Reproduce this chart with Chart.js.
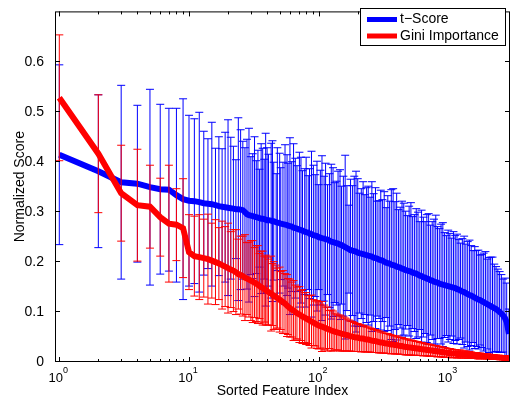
<!DOCTYPE html>
<html><head><meta charset="utf-8">
<script src="https://cdn.jsdelivr.net/npm/chart.js@4.4.0/dist/chart.umd.min.js"></script>
<style>html,body{margin:0;padding:0;background:#fff;}canvas{display:block;}</style>
</head><body>
<canvas id="c" width="511" height="400"></canvas>
<script>
const featureIndex = [1,2,3,4,5,6,7,8,9,10,
 11,12,13,14,15,16,17,18,19,20,
 21,22,23,24,25,26,27,28,29,30,
 31,32,33,34,35,36,37,38,39,40,
 41,43,44,45,47,48,50,51,53,55,
 57,58,60,62,64,66,68,71,73,75,
 78,80,83,85,88,91,94,97,100,103,
 106,110,113,117,121,125,129,133,137,141,
 146,150,155,160,165,171,176,182,188,194,
 200,206,213,220,227,234,241,249,257,265,
 274,282,292,301,310,320,331,341,352,363,
 375,387,399,412,425,439,453,468,483,498,
 514,530,547,565,583,602,621,641,661,682,
 704,727,750,774,799,824,851,878,906,935,
 965,996,1027,1060,1094,1129,1165,1203,1241,1281,
 1322,1364,1408,1453,1499,1547,1597,1648,1701,1755,
 1811,1869,1929,1991,2055,2120,2188,2258,2330,2405,
 2482,2561,2643,2728,2815,2930];
const tScoreMean = [.415,.382,.360,.357,.350,.346,.345,.334,.326,.323,
 .322,.320,.318,.317,.316,.314,.312,.311,.310,.309,
 .308,.307,.306,.306,.305,.304,.300,.296,.294,.293,
 .292,.291,.290,.289,.288,.287,.287,.286,.285,.284,
 .284,.283,.282,.282,.280,.279,.278,.277,.276,.275,
 .274,.273,.272,.271,.269,.268,.267,.265,.264,.263,
 .261,.260,.259,.257,.256,.254,.253,.252,.250,.249,
 .248,.247,.246,.245,.243,.241,.240,.239,.238,.237,
 .235,.234,.232,.230,.228,.226,.224,.223,.222,.221,
 .219,.218,.217,.216,.215,.214,.213,.212,.211,.209,
 .208,.207,.205,.204,.203,.201,.199,.198,.197,.195,
 .194,.193,.191,.190,.189,.187,.186,.184,.183,.182,
 .181,.179,.178,.177,.175,.173,.172,.170,.169,.167,
 .166,.164,.163,.161,.160,.159,.157,.156,.155,.154,
 .153,.152,.151,.150,.149,.148,.146,.145,.143,.141,
 .140,.138,.136,.134,.133,.131,.129,.127,.125,.124,
 .122,.120,.118,.116,.114,.112,.110,.108,.106,.103,
 .100,.097,.093,.088,.080,.056];
const tScoreErr = [.180,.153,.194,.157,.196,.170,.163,.174,.201,.171,
 .165,.180,.144,.130,.164,.114,.139,.116,.150,.176,
 .142,.125,.099,.183,.160,.138,.129,.150,.174,.118,
 .125,.160,.113,.135,.098,.150,.141,.120,.173,.145,
 .132,.155,.161,.118,.097,.150,.140,.112,.124,.160,
 .141,.125,.177,.130,.168,.140,.126,.155,.146,.120,
 .126,.150,.114,.130,.166,.140,.122,.150,.105,.135,
 .165,.125,.152,.110,.134,.155,.149,.120,.124,.145,
 .150,.118,.140,.184,.125,.088,.142,.130,.150,.161,
 .148,.120,.130,.145,.120,.135,.139,.118,.150,.128,
 .141,.115,.118,.140,.122,.140,.110,.135,.125,.150,
 .153,.128,.147,.115,.121,.135,.132,.118,.110,.130,
 .138,.112,.117,.130,.125,.108,.132,.120,.112,.128,
 .131,.110,.118,.125,.134,.112,.110,.120,.124,.105,
 .100,.112,.106,.098,.112,.105,.110,.100,.095,.106,
 .112,.098,.105,.110,.100,.092,.102,.096,.099,.090,
 .093,.098,.103,.090,.095,.098,.100,.088,.085,.083,
 .081,.078,.073,.080,.078,.050];
const giniMean = [.529,.417,.338,.314,.311,.290,.277,.275,.268,.220,
 .212,.210,.208,.206,.203,.200,.197,.194,.191,.188,
 .185,.183,.180,.176,.174,.172,.169,.167,.165,.163,
 .161,.159,.157,.155,.152,.150,.148,.146,.144,.142,
 .140,.137,.135,.133,.130,.128,.125,.123,.120,.117,
 .113,.111,.108,.105,.103,.100,.098,.095,.093,.091,
 .089,.087,.085,.083,.081,.079,.077,.075,.073,.072,
 .071,.069,.068,.066,.065,.063,.062,.061,.060,.059,
 .058,.057,.056,.055,.054,.053,.052,.051,.050,.049,
 .049,.048,.047,.047,.046,.045,.045,.044,.043,.042,
 .042,.041,.040,.039,.039,.038,.037,.037,.036,.035,
 .035,.034,.034,.033,.032,.032,.031,.030,.030,.029,
 .029,.028,.028,.027,.027,.026,.026,.025,.025,.024,
 .024,.023,.023,.022,.022,.021,.021,.020,.020,.019,
 .019,.018,.018,.017,.017,.017,.016,.016,.016,.015,
 .015,.015,.014,.014,.014,.013,.013,.013,.012,.012,
 .012,.012,.011,.011,.011,.010,.010,.010,.010,.009,
 .009,.009,.008,.008,.008,.007];
const giniErr = [.126,.118,.096,.112,.083,.078,.117,.072,.099,.075,
 .080,.085,.078,.090,.075,.085,.072,.088,.080,.090,
 .076,.082,.085,.070,.078,.080,.086,.072,.075,.080,
 .082,.070,.076,.078,.065,.072,.074,.066,.070,.068,
 .066,.075,.062,.068,.064,.060,.065,.058,.063,.060,
 .062,.056,.058,.055,.060,.054,.052,.056,.050,.054,
 .050,.052,.048,.050,.053,.046,.045,.048,.047,.044,
 .050,.045,.042,.044,.038,.041,.040,.037,.036,.035,
 .036,.035,.034,.033,.032,.031,.030,.030,.029,.028,
 .028,.027,.027,.026,.026,.025,.025,.024,.024,.023,
 .023,.022,.022,.021,.021,.020,.020,.020,.019,.019,
 .018,.018,.018,.017,.017,.017,.016,.016,.016,.015,
 .015,.015,.014,.014,.014,.013,.013,.013,.012,.012,
 .012,.012,.011,.011,.011,.011,.010,.010,.010,.010,
 .009,.009,.009,.009,.008,.008,.008,.008,.008,.007,
 .007,.007,.007,.007,.006,.006,.006,.006,.006,.006,
 .005,.005,.005,.005,.005,.005,.005,.004,.004,.004,
 .004,.004,.004,.004,.004,.003];
const seriesLabels = ['t\u2212Score', 'Gini Importance'];
const seriesColors = ['#0000ff', '#ff0000'];
const yTicks = [0, 0.1, 0.2, 0.3, 0.4, 0.5, 0.6];
const xTicks = [1, 10, 100, 1000];
const xTickExponents = ['0', '1', '2', '3'];
const xTitle = 'Sorted Feature Index';
const yTitle = 'Normalized Score';

const FONT = "'Liberation Sans', Arial, Helvetica, sans-serif";

const errorBarPlugin = {
  id: 'errorBars',
  beforeDatasetDraw(chart, args) {
    const ds = chart.data.datasets[args.index];
    if (!ds.errors) return;
    const xs = chart.scales.x, ys = chart.scales.y, ctx = chart.ctx, a = chart.chartArea;
    ctx.save();
    ctx.beginPath(); ctx.rect(a.left, a.top, a.right - a.left, a.bottom - a.top); ctx.clip();
    ctx.strokeStyle = ds.borderColor; ctx.lineWidth = 1;
    ctx.beginPath();
    ds.data.forEach((pt, j) => {
      const e = ds.errors[j];
      const px = xs.getPixelForValue(pt.x);
      const yt = ys.getPixelForValue(pt.y + e), yb = ys.getPixelForValue(pt.y - e);
      ctx.moveTo(px, yt); ctx.lineTo(px, yb);
      ctx.moveTo(px - 4, yt); ctx.lineTo(px + 4, yt);
      ctx.moveTo(px - 4, yb); ctx.lineTo(px + 4, yb);
    });
    ctx.stroke();
    ctx.restore();
  }
};

const framePlugin = {
  id: 'frame',
  afterDraw(chart) {
    const ctx = chart.ctx, a = chart.chartArea, xs = chart.scales.x, ys = chart.scales.y;
    ctx.save();
    ctx.strokeStyle = '#000'; ctx.lineWidth = 1;
    ctx.strokeRect(a.left + 0.5, a.top + 0.5, a.right - a.left - 1, a.bottom - a.top - 1);
    ctx.beginPath();
    yTicks.forEach(v => {
      const py = Math.round(ys.getPixelForValue(v)) - 0.5;
      ctx.moveTo(a.left, py); ctx.lineTo(a.left + 5, py);
      ctx.moveTo(a.right, py); ctx.lineTo(a.right - 5, py);
    });
    for (let d = 0; d <= 3; d++) {
      for (let k = 1; k <= 9; k++) {
        const v = k * Math.pow(10, d);
        if (v < xs.min || v > xs.max) continue;
        const px = Math.round(xs.getPixelForValue(v)) + 0.5;
        const len = k === 1 ? 5 : 3;
        ctx.moveTo(px, a.bottom); ctx.lineTo(px, a.bottom - len);
        ctx.moveTo(px, a.top); ctx.lineTo(px, a.top + len);
      }
    }
    ctx.stroke();
    ctx.fillStyle = '#000';
    ctx.textBaseline = 'middle';
    ctx.textAlign = 'left';
    xTicks.forEach((v, i) => {
      const px = xs.getPixelForValue(v);
      ctx.font = '13px ' + FONT;
      const w1 = ctx.measureText('10').width;
      ctx.font = '9px ' + FONT;
      const w2 = ctx.measureText(xTickExponents[i]).width;
      const x0 = px - (w1 + w2) / 2 - 1;
      ctx.font = '13px ' + FONT;
      ctx.fillText('10', x0, 378);
      ctx.font = '9px ' + FONT;
      ctx.fillText(xTickExponents[i], x0 + w1, 371);
    });
    const lx = 360.5, ly = 8.5, lw = 145, lh = 37;
    ctx.fillStyle = '#fff';
    ctx.fillRect(lx, ly, lw, lh);
    ctx.strokeStyle = '#000'; ctx.lineWidth = 1;
    ctx.strokeRect(lx, ly, lw, lh);
    const rows = [19.5, 36];
    chart.data.datasets.forEach((ds, i) => {
      ctx.strokeStyle = ds.borderColor; ctx.lineWidth = 5;
      ctx.beginPath(); ctx.moveTo(367, rows[i]); ctx.lineTo(397, rows[i]); ctx.stroke();
      ctx.fillStyle = '#000';
      ctx.font = '14px ' + FONT;
      ctx.textBaseline = 'middle';
      ctx.fillText(ds.label, 400, rows[i]);
    });
    ctx.restore();
  }
};

const mk = (m) => featureIndex.map((x, i) => ({x: x, y: m[i]}));

new Chart(document.getElementById('c'), {
  type: 'line',
  data: {
    datasets: [
      {label: seriesLabels[0], data: mk(tScoreMean), errors: tScoreErr, borderColor: seriesColors[0], backgroundColor: seriesColors[0], borderWidth: 6, pointRadius: 0, tension: 0, order: 1},
      {label: seriesLabels[1], data: mk(giniMean), errors: giniErr, borderColor: seriesColors[1], backgroundColor: seriesColors[1], borderWidth: 6, pointRadius: 0, tension: 0, order: 0}
    ]
  },
  options: {
    responsive: false,
    animation: false,
    events: [],
    layout: {padding: {left: 0, right: 1, top: 4, bottom: 0}},
    plugins: {legend: {display: false}, tooltip: {enabled: false}},
    scales: {
      x: {
        type: 'logarithmic', min: 0.9265, max: 2985,
        grid: {display: false}, border: {display: false},
        ticks: {display: false},
        afterBuildTicks: s => { s.ticks = xTicks.map(v => ({value: v})); },
        afterFit: s => { s.height = 38; },
        title: {display: true, text: xTitle, color: '#000', font: {family: FONT, size: 14}, padding: {top: 0, bottom: 0}}
      },
      y: {
        type: 'linear', min: 0, max: 0.702,
        grid: {display: false}, border: {display: false},
        ticks: {color: '#000', font: {family: FONT, size: 14}, padding: 3, callback: v => String(Math.round(v * 10) / 10)},
        afterBuildTicks: s => { s.ticks = yTicks.map(v => ({value: v})); },
        afterFit: s => { s.width = 55; },
        title: {display: true, text: yTitle, color: '#000', font: {family: FONT, size: 14}, padding: {top: 11.5, bottom: 0}}
      }
    }
  },
  plugins: [errorBarPlugin, framePlugin]
});
</script>
</body></html>
